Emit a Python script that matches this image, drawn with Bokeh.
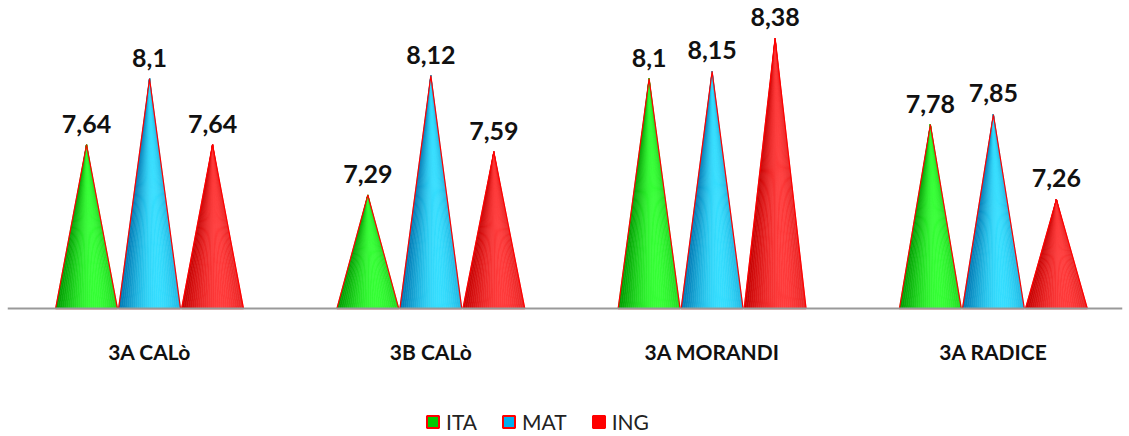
import numpy as np
from bokeh.plotting import figure
from bokeh.models import Range1d, FixedTicker, Legend, LegendItem, ColumnDataSource, LabelSet
from bokeh.core.properties import value
from bokeh.embed import file_html
from bokeh.resources import INLINE

categories = ["3A CALò", "3B CALò", "3A MORANDI", "3A RADICE"]
series = ["ITA", "MAT", "ING"]
ita = [7.64, 7.29, 8.1, 7.78]
mat = [8.1, 8.12, 8.15, 7.85]
ing = [7.64, 7.59, 8.38, 7.26]
values = [ita, mat, ing]

dark = [(0, 150, 0), (0, 115, 175), (195, 0, 0)]
light = [(55, 255, 55), (55, 222, 255), (255, 60, 60)]

y0 = 6.5
p = figure(width=1127, height=436, output_backend="svg", toolbar_location=None,
           x_range=Range1d(-0.005, 3.959), y_range=Range1d(5.61, 8.643),
           min_border_left=7, min_border_right=5, min_border_top=0, min_border_bottom=0)
p.outline_line_color = None
p.grid.visible = False
p.yaxis.visible = False
p.background_fill_color = "white"

offsets = [-0.224, 0.0, 0.224]
half = 0.110
N = 30

def shade(c0, c1, t):
    w = max(0.0, np.cos((t - 0.65) * np.pi / 1.4)) ** 1.3
    r, g, b = (int(c0[k] + (c1[k] - c0[k]) * w) for k in range(3))
    return "#%02x%02x%02x" % (r, g, b)

for s in range(3):
    for i, v in enumerate(values[s]):
        cx = i + 0.5 + offsets[s]
        xs_l, ys_l, cols = [], [], []
        edges = np.linspace(cx - half, cx + half, N + 1)
        for k in range(N):
            t = (k + 0.5) / N
            xs_l.append([edges[k], edges[k + 1], cx])
            ys_l.append([y0, y0, v])
            cols.append(shade(dark[s], light[s], t))
        src = ColumnDataSource(dict(xs=xs_l, ys=ys_l, c=cols))
        p.patches("xs", "ys", source=src, fill_color="c", line_color="c", line_width=0.6)
        p.patch([cx - half, cx + half, cx], [y0, y0, v], fill_color=None,
                line_color="#ff0000", line_width=1.2)

# value labels
lx, ly, lt = [], [], []
for s in range(3):
    for i, v in enumerate(values[s]):
        lx.append(i + 0.5 + offsets[s])
        ly.append(v)
        lt.append(("%g" % v).replace(".", ","))
lsrc = ColumnDataSource(dict(x=lx, y=ly, t=lt))
p.add_layout(LabelSet(x="x", y="y", text="t", source=lsrc, text_align="center",
                      text_baseline="alphabetic", y_offset=12, text_font=value("Lato"),
                      text_font_style="bold", text_font_size="25px", text_color="#111111"))

# x axis, drawn at the cones' base value
p.xaxis.fixed_location = y0
p.xaxis.ticker = FixedTicker(ticks=[0.5, 1.5, 2.5, 3.5])
p.xaxis.major_label_overrides = {0.5: categories[0], 1.5: categories[1],
                                 2.5: categories[2], 3.5: categories[3]}
p.xaxis.major_tick_line_color = None
p.xaxis.minor_tick_line_color = None
p.xaxis.axis_line_color = "#999999"
p.xaxis.axis_line_width = 2
p.xaxis.major_label_standoff = 24
p.xaxis.major_label_text_font = "Lato"
p.xaxis.major_label_text_font_style = "bold"
p.xaxis.major_label_text_font_size = "21px"
p.xaxis.major_label_text_color = "#111111"

# legend (dummy boxes placed outside the visible range)
fills = ["#00cc00", "#00b0f0", "#ff0000"]
items = []
for s in range(3):
    r = p.quad(left=[-2], right=[-1.9], top=[7], bottom=[6.9], fill_color=fills[s],
               line_color="#ff0000", line_width=2)
    items.append(LegendItem(label=series[s], renderers=[r]))
legend = Legend(items=items, orientation="horizontal", location=(418, 2),
                glyph_width=15, glyph_height=15, label_standoff=6, spacing=24,
                padding=0, margin=0, border_line_color=None, background_fill_alpha=0,
                label_text_font="Lato", label_text_font_size="21px", label_text_color="#222222")
p.add_layout(legend, "center")

open("out.html", "w").write(file_html(p, INLINE))
